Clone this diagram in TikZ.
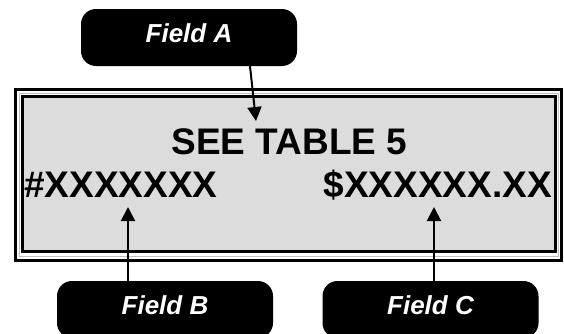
\documentclass[tikz,border=0pt]{standalone}
\usepackage{fontspec}
\setmainfont{Liberation Sans}
\usetikzlibrary{arrows.meta,calc}
\definecolor{panel}{HTML}{DCDCDC}
\begin{document}
\begin{tikzpicture}[x=1pt,y=-1pt,
  field/.style={fill=black, rounded corners=15pt, minimum width=216pt, minimum height=57pt,
    inner sep=0pt, text=white, font=\fontsize{26}{26}\selectfont\bfseries\itshape,
    text height=18.5pt, text depth=9pt},
  big/.style={font=\fontsize{37}{37}\selectfont\bfseries, inner sep=0pt, anchor=base},
  arr/.style={line width=2pt, -{Triangle[length=14pt,width=14pt]}}]
\useasboundingbox (0,0) rectangle (564,333);
\fill[white] (0,0) rectangle (564,333);
\begin{scope}
\clip (0,0) rectangle (564,333);
% frame
\draw[line width=3pt] (15.5,89.5) rectangle (561.5,260.5);
\draw[line width=0.6pt, black!25] (19,93) rectangle (558,256.5);
\draw[line width=3pt, fill=panel] (22.5,96.5) rectangle (555.5,251.5);
% texts
\node[big] (see) at (289.5,154) {SEE TABLE 5};
\node[big, anchor=base west] (num) at (24,197) {\#XXXXXXX};
\node[big, anchor=base east] (amt) at (552,197) {\$XXXXXX.XX};
% fields
\node[field] (fa) at (189,37.5) {Field A};
\node[field] (fb) at (165,309.5) {Field B};
\node[field] (fc) at (430.5,309.5) {Field C};
\end{scope}
\coordinate (ta) at (256,121);
\coordinate (tb) at (128,207);
\coordinate (tc) at (434,207);
\draw[arr] ($(fa.south)+(61,0)$) -- (ta);
\draw[arr] ($(fb.north)+(-37,0)$) -- (tb);
\draw[arr] ($(fc.north)+(3.5,0)$) -- (tc);
\end{tikzpicture}
\end{document}
